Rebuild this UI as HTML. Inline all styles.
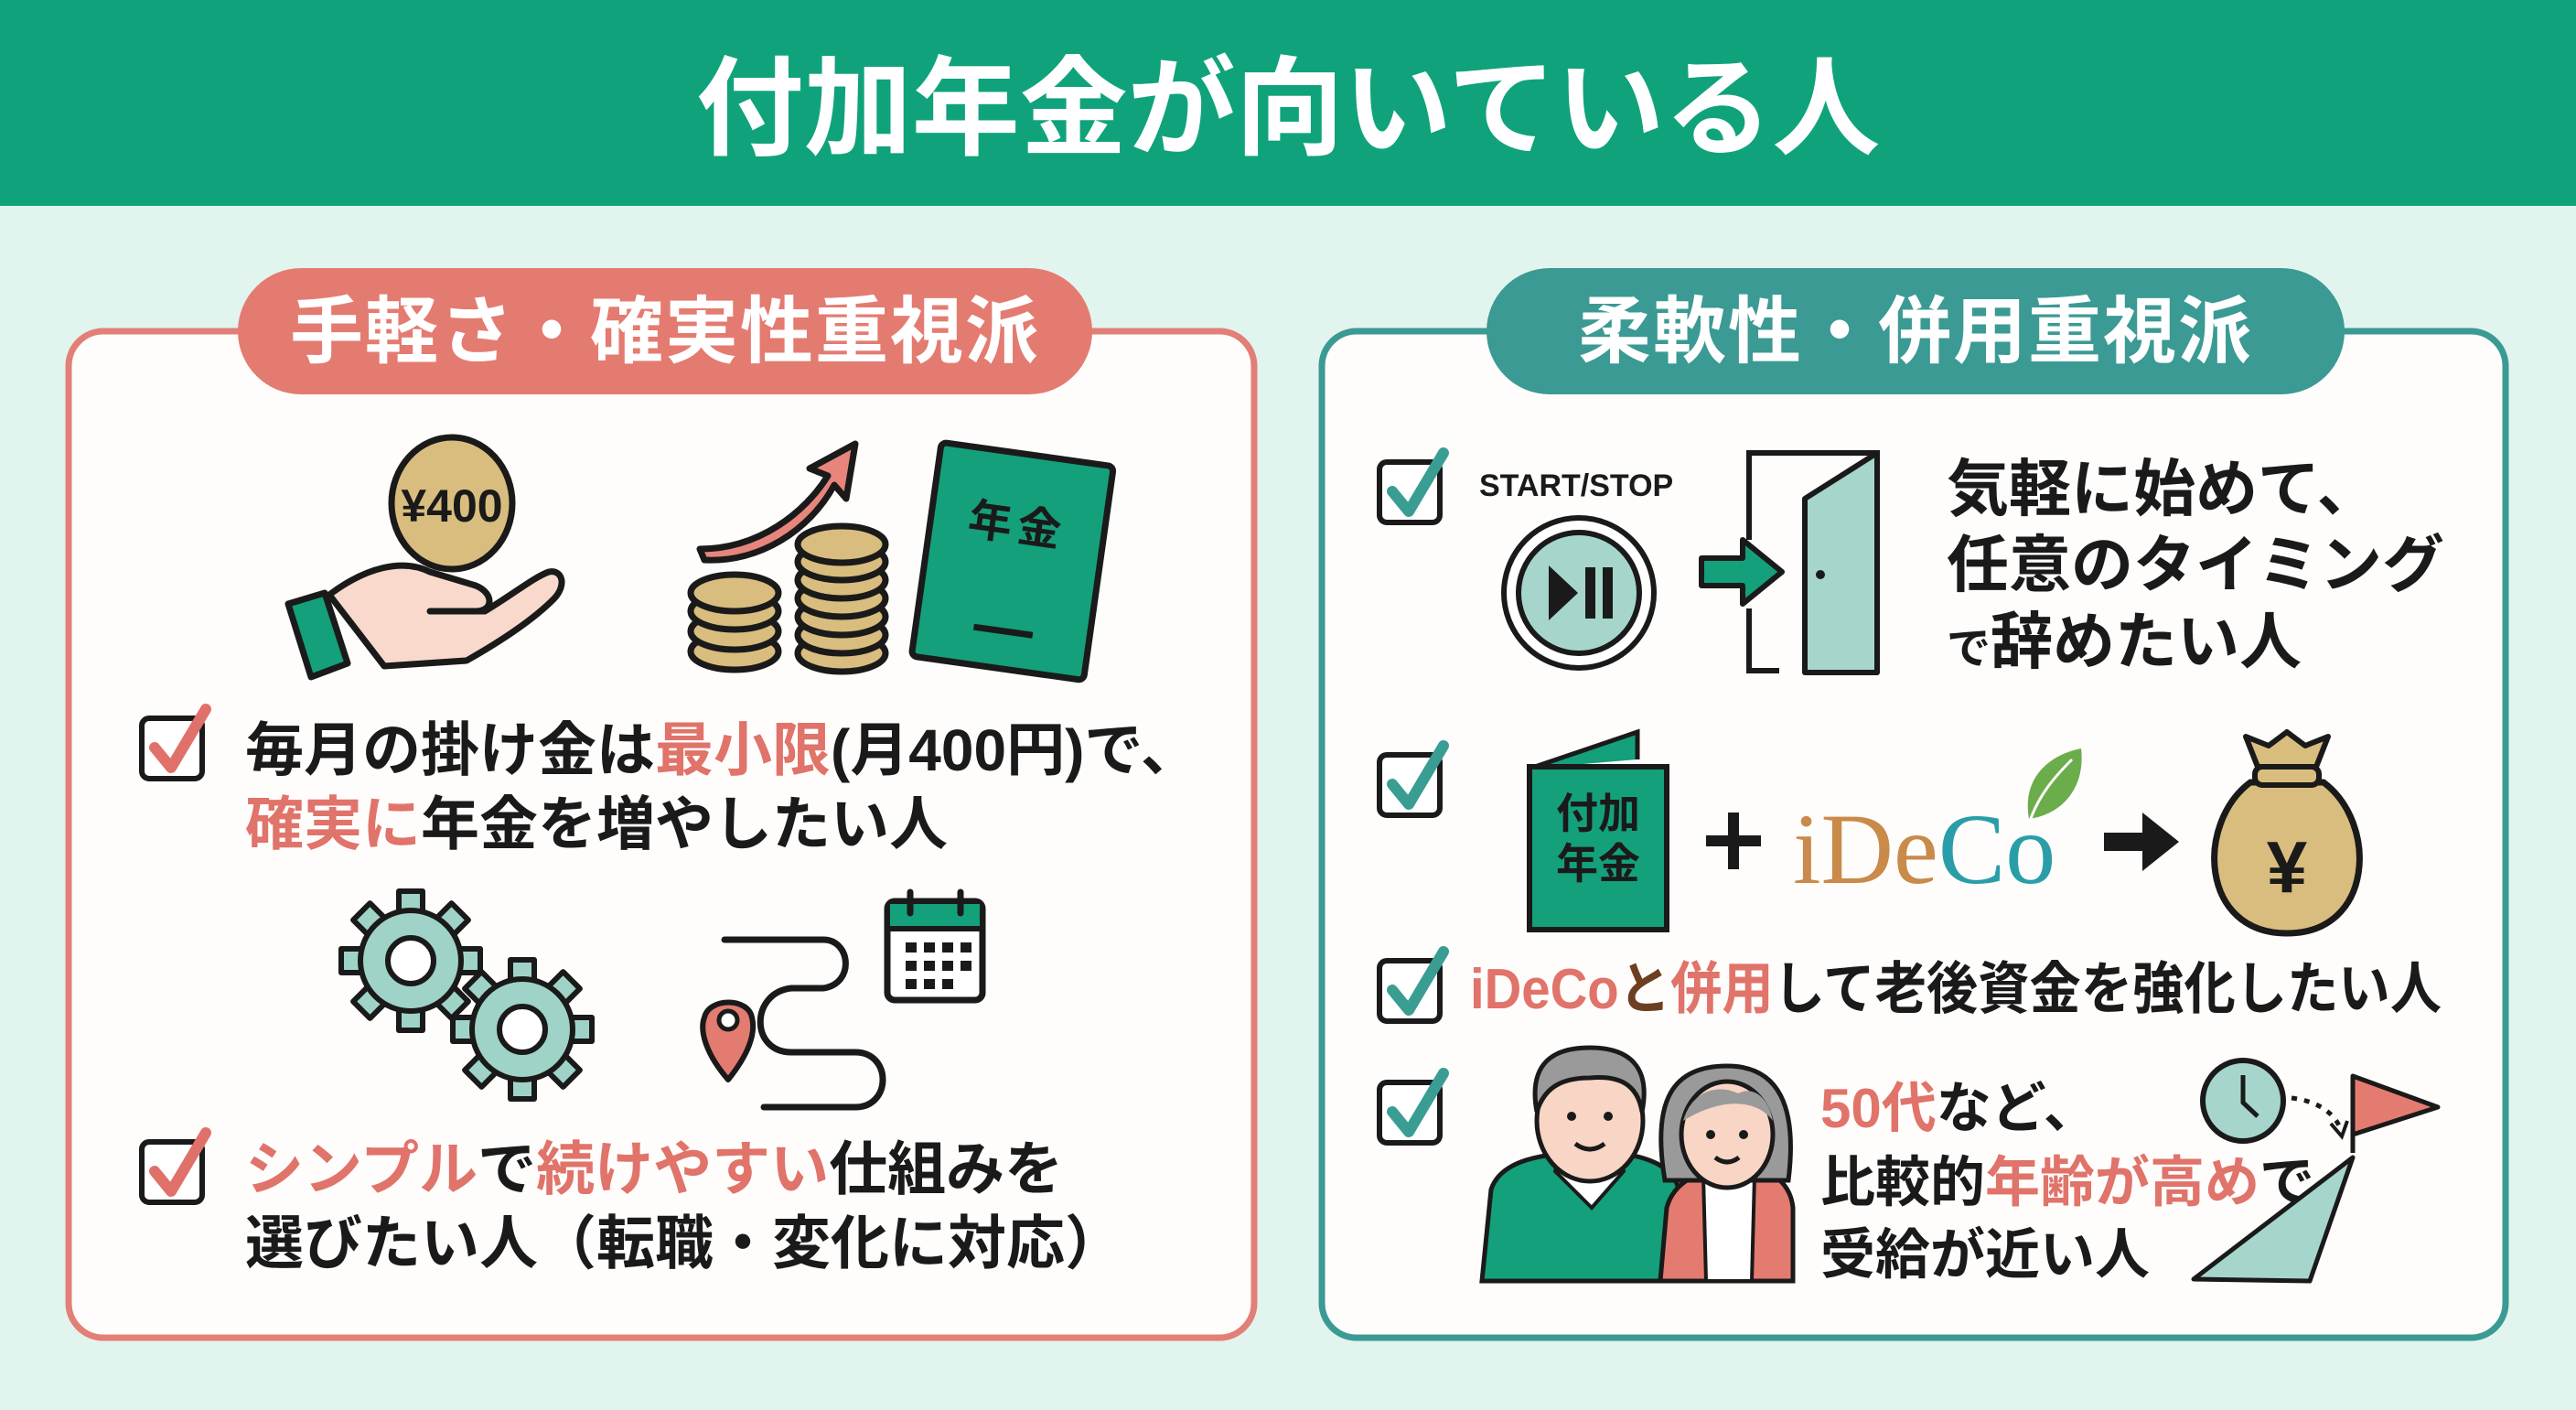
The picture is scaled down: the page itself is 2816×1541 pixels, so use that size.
<!DOCTYPE html>
<html><head><meta charset="utf-8"><style>
html,body{margin:0;padding:0;}
body{width:2816px;height:1536px;overflow:hidden;background:#e2f4ee;}
svg text{font-family:"Liberation Sans","Noto Sans CJK JP",sans-serif;font-weight:700;}
</style></head><body>
<svg width="2816" height="1536" viewBox="0 0 2816 1536" xmlns="http://www.w3.org/2000/svg">
<defs>
<g id="tooth"><rect x="-13" y="-76" width="26" height="26" fill="#9fd3c7" stroke="#1a1a1a" stroke-width="6" stroke-linejoin="round"/></g>
<g id="gear">
<use href="#tooth"/><use href="#tooth" transform="rotate(45)"/><use href="#tooth" transform="rotate(90)"/><use href="#tooth" transform="rotate(135)"/><use href="#tooth" transform="rotate(180)"/><use href="#tooth" transform="rotate(225)"/><use href="#tooth" transform="rotate(270)"/><use href="#tooth" transform="rotate(315)"/>
<circle r="55" fill="#9fd3c7" stroke="#1a1a1a" stroke-width="6"/>
<circle r="25" fill="#fff" stroke="#1a1a1a" stroke-width="6"/>
</g>
<g id="chkR"><rect x="0" y="10" width="66" height="66" rx="8" fill="#fff" stroke="#1a1a1a" stroke-width="6"/><path d="M14 42 L32 64 L70 0" fill="none" stroke="#e0716a" stroke-width="12" stroke-linecap="round" stroke-linejoin="round"/></g>
<g id="chkT"><rect x="0" y="10" width="66" height="66" rx="8" fill="#fff" stroke="#1a1a1a" stroke-width="6"/><path d="M14 42 L32 64 L70 0" fill="none" stroke="#3a9d94" stroke-width="12" stroke-linecap="round" stroke-linejoin="round"/></g>
</defs>

<rect x="0" y="0" width="2816" height="225" fill="#10a37b"/>
<text x="1408" y="160" font-size="118" fill="#fff" text-anchor="middle">付加年金が向いている人</text>

<rect x="75" y="362" width="1296" height="1100" rx="38" fill="#fefdfb" stroke="#e27f76" stroke-width="7"/>
<rect x="260" y="293" width="934" height="138" rx="69" fill="#e47b71"/>
<text x="727" y="390" font-size="80" fill="#fff" text-anchor="middle" letter-spacing="2">手軽さ・確実性重視派</text>

<rect x="1445" y="362" width="1294" height="1100" rx="38" fill="#fefdfb" stroke="#3b9a93" stroke-width="7"/>
<rect x="1625" y="293" width="938" height="138" rx="69" fill="#3b9a93"/>
<text x="2094" y="390" font-size="80" fill="#fff" text-anchor="middle" letter-spacing="2">柔軟性・併用重視派</text>

<ellipse cx="494" cy="550" rx="66" ry="72" fill="#d8bd7e" stroke="#1a1a1a" stroke-width="7"/>
<text x="494" y="570" font-size="50" fill="#1a1a1a" text-anchor="middle">¥400</text>
<path d="M360 650 C400 620 440 610 470 625 L520 640 C540 648 540 668 520 668 L470 668 L530 668 C560 650 585 630 600 625 C615 622 620 640 605 655 C580 680 540 705 510 722 L420 728 Z" fill="#f8d9cb" stroke="#1a1a1a" stroke-width="7" stroke-linejoin="round"/>
<path d="M470 668 L525 668" stroke="#1a1a1a" stroke-width="7"/>
<path d="M315 660 L355 648 L380 725 L340 740 Z" fill="#14a07a" stroke="#1a1a1a" stroke-width="7" stroke-linejoin="round"/>
<path d="M765 600 C830 600 880 560 905 520 L885 512 L935 485 L925 545 L912 530 C885 580 830 615 770 612 Z" fill="#e7857c" stroke="#1a1a1a" stroke-width="7" stroke-linejoin="round"/>
<g fill="#d8bd7e" stroke="#1a1a1a" stroke-width="7">
<ellipse cx="803" cy="712" rx="48" ry="20"/><ellipse cx="803" cy="690" rx="48" ry="20"/><ellipse cx="803" cy="668" rx="48" ry="20"/><ellipse cx="803" cy="648" rx="48" ry="20"/>
<ellipse cx="920" cy="714" rx="48" ry="20"/><ellipse cx="920" cy="694" rx="48" ry="20"/><ellipse cx="920" cy="674" rx="48" ry="20"/><ellipse cx="920" cy="654" rx="48" ry="20"/><ellipse cx="920" cy="634" rx="48" ry="20"/><ellipse cx="920" cy="614" rx="48" ry="20"/><ellipse cx="920" cy="595" rx="48" ry="20"/>
</g>
<g transform="rotate(8 1104 612)">
<rect x="1012" y="495" width="190" height="236" rx="6" fill="#14a07a" stroke="#1a1a1a" stroke-width="7"/>
<text x="1107" y="590" font-size="48" fill="#1a1a1a" text-anchor="middle" letter-spacing="6">年金</text>
<path d="M1075 690 L1140 690" stroke="#1a1a1a" stroke-width="7"/>
</g>

<use href="#chkR" x="155" y="775"/>
<text x="268" y="842" font-size="64" fill="#1a1a1a">毎月の掛け金は<tspan fill="#e0736a">最小限</tspan>(月400円)で、</text>
<text x="268" y="923" font-size="64" fill="#1a1a1a"><tspan fill="#e0736a">確実に</tspan>年金を増やしたい人</text>

<use href="#gear" transform="translate(449 1050)"/>
<use href="#gear" transform="translate(571 1125)"/>
<path d="M792 1027 L900 1027 C930 1027 935 1075 900 1080 L865 1080 C820 1085 820 1150 865 1150 L935 1150 C975 1150 975 1210 935 1210 L835 1210" fill="none" stroke="#1a1a1a" stroke-width="7" stroke-linecap="round"/>
<path d="M796 1180 C770 1150 765 1125 770 1112 C775 1090 818 1090 822 1112 C826 1128 820 1150 796 1180 Z" fill="#e47b71" stroke="#1a1a1a" stroke-width="6" stroke-linejoin="round"/>
<circle cx="796" cy="1115" r="10" fill="#fff" stroke="#1a1a1a" stroke-width="5"/>
<rect x="970" y="985" width="104" height="108" rx="8" fill="#fff" stroke="#1a1a1a" stroke-width="7"/>
<path d="M973 988 H1071 V1015 H973 Z" fill="#14a07a"/>
<path d="M970 1015 H1074" stroke="#1a1a1a" stroke-width="6"/>
<path d="M995 975 V998 M1050 975 V998" stroke="#1a1a1a" stroke-width="7" stroke-linecap="round"/>
<g fill="#1a1a1a"><rect x="990" y="1030" width="12" height="11"/><rect x="1010" y="1030" width="12" height="11"/><rect x="1030" y="1030" width="12" height="11"/><rect x="1050" y="1030" width="12" height="11"/>
<rect x="990" y="1050" width="12" height="11"/><rect x="1010" y="1050" width="12" height="11"/><rect x="1030" y="1050" width="12" height="11"/><rect x="1050" y="1050" width="12" height="11"/>
<rect x="990" y="1070" width="12" height="11"/><rect x="1010" y="1070" width="12" height="11"/><rect x="1030" y="1070" width="12" height="11"/></g>

<use href="#chkR" x="155" y="1238"/>
<text x="268" y="1300" font-size="64" fill="#1a1a1a"><tspan fill="#e0736a">シンプル</tspan>で<tspan fill="#e0736a">続けやすい</tspan>仕組みを</text>
<text x="268" y="1381" font-size="64" fill="#1a1a1a">選びたい人（転職・変化に対応）</text>

<use href="#chkT" x="1508" y="495"/>
<text x="1617" y="542" font-size="34" fill="#1a1a1a">START/STOP</text>
<circle cx="1726" cy="648" r="82" fill="#fff" stroke="#1a1a1a" stroke-width="6"/>
<circle cx="1726" cy="648" r="66" fill="#a6d6cb" stroke="#1a1a1a" stroke-width="6"/>
<path d="M1693 618 L1693 678 L1725 648 Z" fill="#1a1a1a"/>
<rect x="1733" y="620" width="11" height="56" fill="#1a1a1a"/><rect x="1752" y="620" width="11" height="56" fill="#1a1a1a"/>
<path d="M1860 610 L1905 610 L1905 590 L1948 625 L1905 660 L1905 640 L1860 640 Z" fill="#14a07a" stroke="#1a1a1a" stroke-width="6" stroke-linejoin="round"/>
<path d="M1912 590 L1912 495 L2052 495 L2052 735 M1912 665 L1912 733 L1945 733" fill="none" stroke="#1a1a1a" stroke-width="6"/>
<path d="M1973 545 L2052 495 L2052 735 L1973 735 Z" fill="#a6d6cb" stroke="#1a1a1a" stroke-width="6" stroke-linejoin="round"/>
<circle cx="1990" cy="628" r="5" fill="#1a1a1a"/>
<text x="2128" y="558" font-size="68" fill="#1a1a1a">気軽に始めて、</text>
<text x="2128" y="641" font-size="68" fill="#1a1a1a">任意のタイミング</text>
<text x="2128" y="725" font-size="68" fill="#1a1a1a"><tspan font-size="48">で</tspan>辞めたい人</text>

<use href="#chkT" x="1508" y="815"/>
<path d="M1672 840 L1790 800 L1790 830" fill="#14a07a" stroke="#1a1a1a" stroke-width="5"/>
<rect x="1672" y="838" width="150" height="178" fill="#14a07a" stroke="#1a1a1a" stroke-width="6"/>
<text x="1747" y="905" font-size="46" fill="#1a1a1a" text-anchor="middle">付加</text>
<text x="1747" y="960" font-size="46" fill="#1a1a1a" text-anchor="middle">年金</text>
<path d="M1895 888 V950 M1865 919 H1925" stroke="#1a1a1a" stroke-width="12"/>
<text x="1960" y="965" font-size="110" style="font-family:'Liberation Serif',serif;font-weight:400"><tspan fill="#c98a4a">iDe</tspan><tspan fill="#2a9ea8">Co</tspan></text>
<path d="M2218 895 C2210 850 2240 825 2275 818 C2280 860 2255 890 2218 895 Z" fill="#6aad4a"/>
<path d="M2218 900 C2228 870 2245 850 2265 830" fill="none" stroke="#fff" stroke-width="3"/>
<path d="M2300 910 H2342 V888 L2382 920 L2342 952 V930 H2300 Z" fill="#1a1a1a"/>
<path d="M2460 855 C2400 900 2405 1020 2500 1020 C2595 1020 2600 900 2540 855 Z" fill="#d8bd7e" stroke="#1a1a1a" stroke-width="7" stroke-linejoin="round"/>
<rect x="2465" y="838" width="70" height="20" rx="8" fill="#d8bd7e" stroke="#1a1a1a" stroke-width="6"/>
<path d="M2468 838 L2455 805 L2480 815 L2500 800 L2520 815 L2545 805 L2532 838 Z" fill="#d8bd7e" stroke="#1a1a1a" stroke-width="6" stroke-linejoin="round"/>
<text x="2500" y="975" font-size="80" fill="#1a1a1a" text-anchor="middle">¥</text>

<text x="1607" y="1102" font-size="62" fill="#1a1a1a" textLength="1062" lengthAdjust="spacingAndGlyphs"><tspan fill="#e0736a">iDeCo</tspan><tspan fill="#6b3f20">と</tspan><tspan fill="#e0736a">併用</tspan>して老後資金を強化したい人</text>
<use href="#chkT" x="1508" y="1040"/>

<use href="#chkT" x="1508" y="1173"/>
<path d="M1620 1400 L1630 1300 C1640 1270 1680 1262 1720 1260 L1760 1260 C1800 1262 1830 1275 1835 1300 L1845 1400 Z" fill="#14a07a" stroke="#1a1a1a" stroke-width="5"/>
<path d="M1710 1245 L1700 1280 L1740 1320 L1775 1280 L1765 1245 Z" fill="#fff" stroke="#1a1a1a" stroke-width="4"/>
<ellipse cx="1738" cy="1225" rx="58" ry="66" fill="#f8d5c4" stroke="#1a1a1a" stroke-width="5"/>
<path d="M1680 1215 C1670 1160 1700 1145 1738 1145 C1780 1145 1805 1165 1795 1215 C1790 1185 1770 1175 1738 1178 C1705 1178 1688 1190 1680 1215 Z" fill="#9a9a9a" stroke="#1a1a1a" stroke-width="5"/>
<circle cx="1718" cy="1220" r="5" fill="#1a1a1a"/><circle cx="1758" cy="1220" r="5" fill="#1a1a1a"/>
<path d="M1722 1250 Q1738 1262 1754 1250" fill="none" stroke="#1a1a1a" stroke-width="5"/>
<path d="M1815 1400 L1822 1320 C1830 1290 1860 1280 1880 1278 L1920 1278 C1945 1282 1958 1300 1960 1320 L1960 1400 Z" fill="#e47b71" stroke="#1a1a1a" stroke-width="5"/>
<path d="M1862 1285 L1865 1400 L1915 1400 L1918 1285 Z" fill="#fff" stroke="#1a1a1a" stroke-width="4"/>
<path d="M1820 1290 C1805 1200 1830 1165 1888 1165 C1945 1165 1965 1210 1955 1290 Z" fill="#9a9a9a" stroke="#1a1a1a" stroke-width="5"/>
<ellipse cx="1888" cy="1240" rx="50" ry="58" fill="#f8d5c4" stroke="#1a1a1a" stroke-width="5"/>
<path d="M1840 1225 C1850 1190 1880 1185 1900 1195 C1920 1185 1935 1205 1938 1225 C1920 1200 1880 1200 1840 1225 Z" fill="#9a9a9a"/>
<circle cx="1870" cy="1240" r="5" fill="#1a1a1a"/><circle cx="1906" cy="1240" r="5" fill="#1a1a1a"/>
<path d="M1875 1265 Q1888 1275 1901 1265" fill="none" stroke="#1a1a1a" stroke-width="5"/>

<text x="1990" y="1232" font-size="60" fill="#1a1a1a"><tspan fill="#e0736a">50代</tspan>など、</text>
<text x="1990" y="1313" font-size="60" fill="#1a1a1a">比較的<tspan fill="#e0736a">年齢が高め</tspan>で</text>
<text x="1990" y="1392" font-size="60" fill="#1a1a1a">受給が近い人</text>

<circle cx="2452" cy="1203" r="44" fill="#a6d6cb" stroke="#1a1a1a" stroke-width="6"/>
<path d="M2452 1175 V1205 L2468 1220" fill="none" stroke="#1a1a1a" stroke-width="5"/>
<path d="M2505 1200 Q2545 1205 2558 1232" fill="none" stroke="#1a1a1a" stroke-width="5" stroke-dasharray="6 8"/>
<path d="M2548 1228 L2560 1242 L2566 1225" fill="none" stroke="#1a1a1a" stroke-width="4"/>
<path d="M2572 1260 V1176 L2665 1210 L2572 1240" fill="#e47b71" stroke="#1a1a1a" stroke-width="5" stroke-linejoin="round"/>
<path d="M2398 1398 L2572 1265 L2525 1400 Z" fill="#a6d6cb" stroke="#1a1a1a" stroke-width="5" stroke-linejoin="round"/>
</svg>
</body></html>
